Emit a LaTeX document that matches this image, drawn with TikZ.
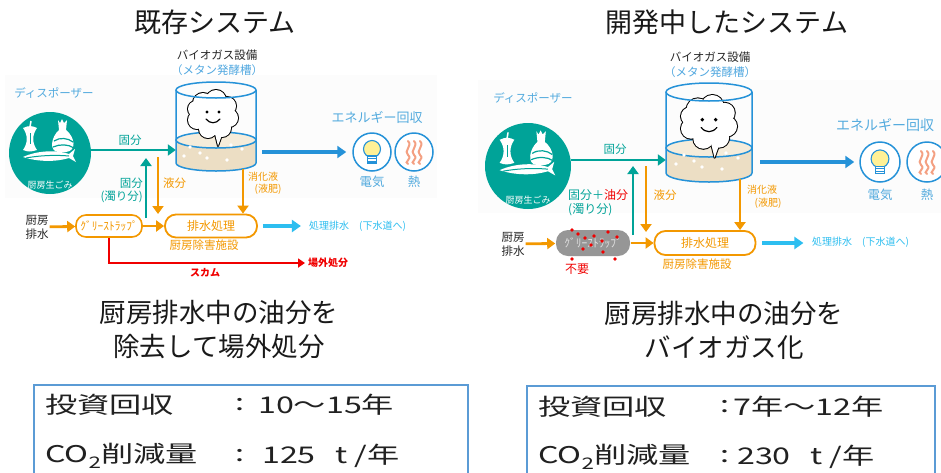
\documentclass[tikz,border=0pt]{standalone}
\usepackage{fontspec}
\setmainfont{Noto Sans CJK JP}
\usetikzlibrary{arrows.meta}
\definecolor{tealg}{RGB}{0,163,152}
\definecolor{orng}{RGB}{243,152,0}
\definecolor{tankblue}{RGB}{37,146,216}
\definecolor{skyblue}{RGB}{84,171,222}
\definecolor{drainblue}{RGB}{45,190,240}
\definecolor{scumred}{RGB}{240,0,0}
\definecolor{liquid}{RGB}{236,222,196}
\definecolor{liquidtop}{RGB}{245,236,218}
\definecolor{bulb}{RGB}{255,241,150}
\definecolor{heat}{RGB}{244,160,130}
\definecolor{boxblue}{RGB}{91,155,213}
\definecolor{panel}{RGB}{252,252,252}
\definecolor{trapgrey}{RGB}{150,150,150}
\newcommand{\fsz}[1]{\fontsize{#1}{#1}\selectfont}
\newcommand{\wide}[1]{\scalebox{1.4}[1]{#1}}
\tikzset{%
    sflow/.style={tealg, line width=2.8pt, -{Triangle[length=8pt,width=11pt]}},
    oflow/.style={orng, line width=2.8pt, -{Triangle[length=8pt,width=11pt]}},
    eflow/.style={tankblue, line width=3.2pt, -{Triangle[length=9pt,width=12pt]}},
    dflow/.style={drainblue, line width=3.2pt, -{Triangle[length=9pt,width=12pt]}},
    scum/.style={scumred, line width=2.4pt, -{Triangle[length=7pt,width=9pt]}},
    tank/.style={tankblue, line width=1.5pt},
    trapbox/.style={draw=orng, line width=1.6pt, fill=white, rounded corners=10pt,
        minimum height=22, inner sep=0, text=orng, font=\fsz{11.5}},
    treatbox/.style={draw=orng, line width=1.8pt, fill=white, rounded corners=11pt,
        minimum height=23, inner sep=0, text=orng, font=\fsz{12}},
    spot/.style={inner sep=0},
    lbl/.style={inner sep=1pt, font=\fsz{11.5}},
    stat/.style={inner sep=0, anchor=west, text=black!87, font=\fsz{23}}
}
\begin{document}
\begin{tikzpicture}[x=1pt, y=-1pt]
    \path[use as bounding box, fill=white] (0,0) rectangle (941,472);
    \clip (0,0) rectangle (941,472);
    \fill[panel] (5,75) rectangle (437,198);
    \fill[panel] (478,80) rectangle (941,213);

    % titles and captions
    \node[font=\fsz{27}, text=black!90] (titleL) at (215,22) {既存システム};
    \node[font=\fsz{27}, text=black!90] (titleR) at (727,22) {開発中したシステム};
    \node[font=\fontsize{26.5}{34}\selectfont, align=center, text=black!90] (noteL) at (219,330)
        {厨房排水中の油分を\\除去して場外処分};
    \node[font=\fontsize{26.5}{34}\selectfont, align=center, text=black!90] (noteR) at (724,330)
        {厨房排水中の油分を\\バイオガス化};

    % digester tanks
    \foreach \cx/\ty/\bt/\ly/\rx/\ry in {216/90/163/140/40/8, 709/92/173/148/43/9}
    {
    \fill[liquid] (\cx-\rx,\ly) rectangle (\cx+\rx,\bt);
    \fill[liquid] (\cx,\bt) ellipse[x radius=\rx, y radius=\ry];
    \draw[tank, fill=liquidtop] (\cx,\ly) ellipse[x radius=\rx, y radius=\ry];
    }
    \foreach \qc/\qd/\qs in {213/115/1, 709/123/1.12}
    {
    \begin{scope}[shift={(\qc,\qd)}, scale=\qs]
    \foreach \qx/\qy/\qr in {0/0/14, -10/-12/10, 3/-15/10, 14/-9/9, 16/3/9, 9/13/9, -5/14/9, -16/5/9, -17/-6/8}
        \draw[line width=2pt] (\qx,\qy) circle[radius=\qr];
    \draw[line width=2pt, line join=round] (2,19) -- (5,31) -- (10,17) -- cycle;
    \foreach \qx/\qy/\qr in {0/0/14, -10/-12/10, 3/-15/10, 14/-9/9, 16/3/9, 9/13/9, -5/14/9, -16/5/9, -17/-6/8}
        \fill[white] (\qx,\qy) circle[radius=\qr];
    \fill[white] (2,19) -- (5,31) -- (10,17) -- cycle;
    \fill (-6,-3) circle[radius=1.7] (6,-3) circle[radius=1.7];
    \draw[line width=1.2pt, line cap=round] (-7,4) .. controls (-3,9) and (3,9) .. (7,4);
    \end{scope}
    }
    \foreach \p in {(190,147),(200,153),(231,145),(242,149),(207,158),(227,160),(184,156),
                    (684,155),(694,161),(726,153),(738,158),(702,167),(722,169),(676,164)}
        \fill[white] \p circle[radius=1.8];
    \foreach \cx/\ty/\bt/\rx/\ry in {216/90/163/40/8, 709/92/173/43/9}
    {
    \draw[tank] (\cx-\rx,\ty) -- (\cx-\rx,\bt) arc[start angle=180, end angle=0, x radius=\rx, y radius=\ry] -- (\cx+\rx,\ty);
    \draw[tank] (\cx,\ty) ellipse[x radius=\rx, y radius=\ry];
    }
    \node[spot, minimum width=80, minimum height=73] (tankL) at (216,126.5) {};
    \node[spot, minimum width=86, minimum height=81] (tankR) at (709,132.5) {};
    \node[lbl, font=\fsz{11.5}, text=black!85] (gasL) at (217,55) {バイオガス設備};
    \node[lbl, font=\fsz{11.5}, text=tankblue!80] (methL) at (217,70) {（メタン発酵槽）};
    \node[lbl, font=\fsz{11.5}, text=black!85] (gasR) at (710,57) {バイオガス設備};
    \node[lbl, font=\fsz{11.5}, text=tankblue!80] (methR) at (710,72) {（メタン発酵槽）};

    % kitchen waste (disposer)
    \node[circle, fill=tealg, minimum size=82, inner sep=0] (kitchenL) at (50,153) {};
    \node[circle, fill=tealg, minimum size=86, inner sep=0] (kitchenR) at (528,166) {};
    \foreach \kx/\ky/\ks in {50/153/1, 528/166/1.05}
    {
    \begin{scope}[shift={(\kx,\ky)}, scale=\ks]
    \fill[white] (-27,-25) .. controls (-21,-28) and (-17,-27) .. (-13,-25)
        .. controls (-18,-18) and (-18,-10) .. (-13,-3) .. controls (-19,-1) and (-22,-1) .. (-27,-3)
        .. controls (-22,-10) and (-22,-18) .. (-27,-25) -- cycle;
    \draw[white, line width=1.5pt] (-20,-26) -- (-19,-32);
    \draw[tealg, line width=0.8pt] (-20,-20) -- (-20,-9);
    \fill[white] (8,-33) -- (10,-30) -- (12,-34) -- (14,-30) -- (17,-33) -- (16,-23) -- (9,-23) -- cycle;
    \fill[white] (9,-23) -- (16,-23) .. controls (25,-16) and (27,-2) .. (16,-1) -- (8,-1)
        .. controls (-1,-2) and (1,-16) .. (9,-23) -- cycle;
    \draw[tealg, line width=1.2pt] (4,-12) .. controls (10,-16) and (18,-15) .. (23,-11)
        (3,-6) .. controls (10,-9) and (18,-9) .. (24,-5);
    \fill[white] (-27,4) .. controls (-12,-3) and (8,-3) .. (19,1) -- (25,-4) -- (23,3) -- (26,9) -- (19,5)
        .. controls (6,9) and (-12,9) .. (-27,4) -- cycle;
    \draw[tealg, line width=1pt] (-24,5) .. controls (-8,2) and (8,2) .. (19,3);
    \end{scope}
    }
    \node[lbl, font=\fsz{9}, text=white] (wasteL) at (50,185) {厨房生ごみ};
    \node[lbl, font=\fsz{9}, text=white] (wasteR) at (528,200) {厨房生ごみ};
    \node[lbl, text=skyblue] (dispL) at (54,93) {ディスポーザー};
    \node[lbl, text=skyblue] (dispR) at (533,98) {ディスポーザー};

    % energy recovery
    \node[circle, draw=tankblue, line width=1.5pt, fill=white, minimum size=38] (bulbL) at (372,152) {};
    \node[circle, draw=tankblue, line width=1.5pt, fill=white, minimum size=38] (heatL) at (414,152) {};
    \node[circle, draw=tankblue, line width=1.5pt, fill=white, minimum size=40] (bulbR) at (880,162) {};
    \node[circle, draw=tankblue, line width=1.5pt, fill=white, minimum size=40] (heatR) at (927,162) {};
    \foreach \lx/\ly/\ls in {372/152/1, 880/162/1.05}
    {
    \begin{scope}[shift={(\lx,\ly)}, scale=\ls]
    \draw[tankblue, fill=bulb, line width=1.1pt] (0,-3) circle[radius=8.5];
    \draw[tankblue, fill=white, line width=1.1pt] (-4.5,4) rectangle (4.5,11);
    \draw[tankblue, line width=0.8pt] (-4.5,6.5) -- (4.5,6.5) (-4.5,9) -- (4.5,9);
    \end{scope}
    }
    \foreach \hx/\hy in {414/152, 927/162}
    {
    \begin{scope}[shift={(\hx,\hy)}]
    \foreach \w in {-6,0,6}
        \draw[heat, line width=2pt, line cap=round] (\w,-11) .. controls (\w+5,-6) and (\w-5,-1) .. (\w,3)
            .. controls (\w+5,7) and (\w-5,10) .. (\w,12);
    \end{scope}
    }
    \node[lbl, font=\fsz{13}, text=skyblue] (energyL) at (377,117) {エネルギー回収};
    \node[lbl, font=\fsz{14}, text=skyblue] (energyR) at (885,125) {エネルギー回収};
    \node[lbl, font=\fsz{12.5}, text=skyblue] (elecL) at (372,182) {電気};
    \node[lbl, font=\fsz{12.5}, text=skyblue] (warmL) at (414,182) {熱};
    \node[lbl, font=\fsz{12.5}, text=skyblue] (elecR) at (880,195) {電気};
    \node[lbl, font=\fsz{12.5}, text=skyblue] (warmR) at (927,195) {熱};

    % wastewater line, existing system
    \node[lbl, font=\fontsize{11.5}{14}\selectfont, align=center, text=black!85] (drainL) at (37,227) {厨房\\排水};
    \node[trapbox, minimum width=66] (trapL) at (109,226) {ｸﾞﾘｰｽﾄﾗｯﾌﾟ};
    \node[treatbox, minimum width=92] (treatL) at (211,226) {排水処理};
    \node[lbl, text=orng] (plantL) at (204,245) {厨房除害施設};
    \coordinate (upL) at (146,218);
    \coordinate (downL) at (158,157);
    \coordinate (dumpL) at (305,263);
    \draw[sflow] ([yshift=3pt]kitchenL.east) -- ([yshift=3pt]kitchenL.east -| tankL.west);
    \draw[eflow] ([xshift=6pt]tankL.east |- bulbL) -- ([xshift=-6pt]bulbL.west);
    \draw[oflow] (drainL) -- (trapL);
    \draw[oflow] (trapL) -- (treatL);
    \draw[sflow] (upL) -- ++(0,-60);
    \draw[oflow] (downL) -- ++(0,57);
    \draw[oflow] ([shift={(27,6)}]tankL.south) -- ([xshift=32pt]treatL.north);
    \draw[dflow] ([xshift=5pt]treatL.east) -- ++(38,0) coordinate (outL);
    \draw[scum] (trapL.south) |- (dumpL);
    \node[lbl, text=tealg] (solidL) at (130,140) {固分};
    \node[lbl, text=tealg, anchor=east] (solidL2) at (144,183) {固分};
    \node[lbl, text=tealg, anchor=east] (turbidL) at (144,197) {(濁り分)};
    \node[lbl, text=orng, anchor=west] (liqL) at (162,183) {液分};
    \node[lbl, font=\fsz{10}, text=orng] (digL) at (263,177) {消化液};
    \node[lbl, font=\fsz{10}, text=orng] (fertL) at (268,189) {(液肥)};
    \node[lbl, font=\fsz{10}, text=drainblue, anchor=west] (sewerL) at (308,226) {処理排水　(下水道へ)};
    \node[lbl, font=\bfseries\fsz{10}, text=scumred] (scumL) at (205,273) {スカム};
    \node[lbl, font=\bfseries\fsz{10}, text=scumred, anchor=west] (offL) at (307,263) {場外処分};

    % wastewater line, new system
    \node[lbl, font=\fontsize{11.5}{14}\selectfont, align=center, text=black!85] (drainR) at (513,244) {厨房\\排水};
    \node[trapbox, draw=none, fill=trapgrey, minimum width=74, minimum height=26, rounded corners=12pt,
        text=black!12] (trapR) at (593,243) {ｸﾞﾘｰｽﾄﾗｯﾌﾟ};
    \foreach \p in {(572,230),(578,234),(585,238),(608,232),(617,237),(602,241),(591,245),
                    (583,249),(603,252),(572,259),(615,259),(594,236)}
        \fill[scumred] \p circle[radius=1.8];
    \node[treatbox, minimum width=101, minimum height=24] (treatR) at (705,243) {排水処理};
    \node[lbl, text=orng] (plantR) at (697,264) {厨房除害施設};
    \node[lbl, font=\fsz{12}, text=scumred] (uselessR) at (577,269) {不要};
    \coordinate (upR) at (633,235);
    \coordinate (downR) at (646,166);
    \draw[sflow] ([yshift=6pt]kitchenR.east) -- ([yshift=6pt]kitchenR.east -| tankR.west);
    \draw[eflow] ([xshift=8pt]tankR.east |- bulbR) -- ([xshift=-5pt]bulbR.west);
    \draw[oflow] (drainR) -- (trapR);
    \draw[oflow] (trapR) -- (treatR);
    \draw[sflow] (upR) -- ++(0,-69);
    \draw[oflow] (downR) -- ++(0,66);
    \draw[oflow] ([shift={(31,6)}]tankR.south) -- ([xshift=35pt]treatR.north);
    \draw[dflow] ([xshift=6pt]treatR.east) -- ++(41,0) coordinate (outR);
    \node[lbl, text=tealg] (solidR) at (615,149) {固分};
    \node[lbl, font=\fsz{12}, text=tealg, anchor=west] (mixR) at (567,195) {固分＋\textcolor{scumred}{油分}};
    \node[lbl, font=\fsz{12}, text=tealg, anchor=west] (turbidR) at (567,210) {(濁り分)};
    \node[lbl, text=orng] (liqR) at (665,195) {液分};
    \node[lbl, font=\fsz{10}, text=orng] (digR) at (762,190) {消化液};
    \node[lbl, font=\fsz{10}, text=orng] (fertR) at (768,203) {(液肥)};
    \node[lbl, font=\fsz{10}, text=drainblue, anchor=west] (sewerR) at (811,242) {処理排水　(下水道へ)};

    % payback and CO2 figures
    \draw[boxblue, line width=1.5pt] (34,385) rectangle (468,490);
    \draw[boxblue, line width=1.5pt] (527,386) rectangle (935,490);
    \node[stat] (payL) at (45,405) {\wide{投資回収}};
    \node[stat, anchor=center] (colonL) at (240,405) {\wide{:}};
    \node[stat] (payvalL) at (258,405) {\wide{10～15年}};
    \node[stat] (co2L) at (45,456) {\wide{CO\raisebox{-.45ex}{\fsz{16}2}削減量}};
    \node[stat, anchor=center] (colonL2) at (240,456) {\wide{:}};
    \node[stat] (co2valL) at (262,456) {\wide{125\hspace{.6em}t /年}};
    \node[stat] (payR) at (538,407) {\wide{投資回収}};
    \node[stat, anchor=center] (colonR) at (725,407) {\wide{:}};
    \node[stat] (payvalR) at (733,407) {\wide{7年～12年}};
    \node[stat] (co2R) at (538,457) {\wide{CO\raisebox{-.45ex}{\fsz{16}2}削減量}};
    \node[stat, anchor=center] (colonR2) at (725,457) {\wide{:}};
    \node[stat] (co2valR) at (737,457) {\wide{230\hspace{.6em}t /年}};
\end{tikzpicture}
\end{document}
